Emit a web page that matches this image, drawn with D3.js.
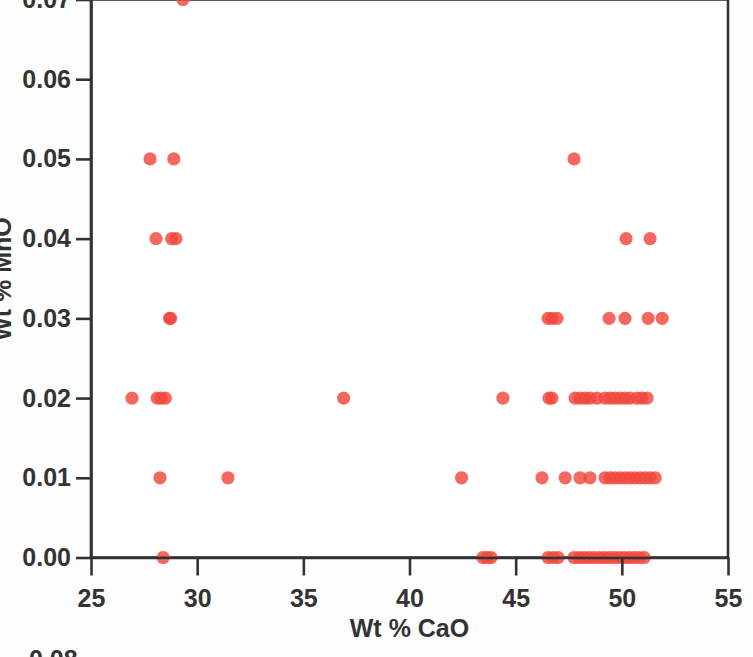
<!DOCTYPE html>
<html>
<head>
<meta charset="utf-8">
<script src="https://cdn.jsdelivr.net/npm/d3@7"></script>
<style>
  html, body { margin: 0; padding: 0; background: #fdfdfd; overflow: hidden; }
  svg { display: block; }
  .tick text, .lbl { font-family: "Liberation Sans", Arial, sans-serif; font-weight: bold; fill: #333; }
</style>
</head>
<body>
<svg></svg>
<script>
// Wt % MnO levels and the CaO values read at each level
const mnoLevels = [0.00, 0.01, 0.02, 0.03, 0.04, 0.05, 0.07];
const caoAt000 = [28.4, 43.46, 43.65, 43.84, 46.53, 46.76, 47.0, 47.75, 47.99, 48.22, 48.46, 48.69, 48.93, 49.16, 49.4, 49.64, 49.87, 50.11, 50.34, 50.58, 50.81, 51.05];
const caoAt001 = [28.25, 31.45, 42.45, 46.24, 47.33, 48.03, 48.5, 49.21, 49.45, 49.68, 49.92, 50.15, 50.39, 50.62, 50.86, 51.1, 51.33, 51.57];
const caoAt002 = [26.93, 28.12, 28.3, 28.5, 36.9, 44.4, 46.57, 46.71, 47.8, 48.03, 48.27, 48.5, 48.83, 49.21, 49.45, 49.68, 49.92, 50.15, 50.39, 50.72, 50.95, 51.19];
const caoAt003 = [28.7, 28.75, 46.53, 46.71, 46.95, 49.4, 50.15, 51.24, 51.9];
const caoAt004 = [28.06, 28.8, 29.0, 50.2, 51.33];
const caoAt005 = [27.78, 28.9, 47.75];
const caoAt007 = [29.33];

const xTicks = [25, 30, 35, 40, 45, 50, 55];
const yTicks = [0.00, 0.01, 0.02, 0.03, 0.04, 0.05, 0.06, 0.07];

// flatten into points
var groups = [caoAt000, caoAt001, caoAt002, caoAt003, caoAt004, caoAt005, caoAt007];
var points = [];
groups.forEach((g, i) => g.forEach(c => points.push({ cao: c, mno: mnoLevels[i] })));

const W = 753, H = 657;
const plot = { left: 91, right: 728, top: -0.5, bottom: 557.5 };

var svg = d3.select('svg').attr('width', W).attr('height', H);

var x = d3.scaleLinear().domain([25, 55]).range([plot.left, plot.right]);
var y = d3.scaleLinear().domain([0, 0.07]).range([plot.bottom, plot.top]);

// frame
svg.append('rect')
  .attr('x', plot.left).attr('y', plot.top)
  .attr('width', plot.right - plot.left).attr('height', plot.bottom - plot.top)
  .attr('fill', '#fff')
  .attr('stroke', '#333')
  .attr('stroke-width', 2.6);

// points
svg.append('g')
  .selectAll('circle')
  .data(points)
  .enter().append('circle')
    .attr('cx', d => x(d.cao))
    .attr('cy', d => y(d.mno))
    .attr('r', 6.6)
    .attr('fill', '#f2473c')
    .attr('fill-opacity', 0.82);

// axes
var xAxis = svg.append('g')
  .attr('transform', `translate(0,${plot.bottom})`)
  .call(d3.axisBottom(x).tickValues(xTicks).tickFormat(d3.format('d'))
    .tickSize(18).tickSizeOuter(0).tickPadding(14));

var yAxis = svg.append('g')
  .attr('transform', `translate(${plot.left},0)`)
  .call(d3.axisLeft(y).tickValues(yTicks).tickFormat(d3.format('.2f'))
    .tickSize(15).tickSizeOuter(0).tickPadding(5));

[xAxis, yAxis].forEach(a => {
  a.selectAll('path.domain').attr('stroke', '#333').attr('stroke-width', 2.6);
  a.selectAll('.tick line').attr('stroke', '#333').attr('stroke-width', 2.6);
  a.selectAll('.tick text').attr('font-size', 25).attr('fill', '#333')
    .style('font-family', '"Liberation Sans", Arial, sans-serif').style('font-weight', 'bold');
});

// axis titles
svg.append('text')
  .attr('class', 'lbl')
  .attr('x', (plot.left + plot.right) / 2)
  .attr('y', 637)
  .attr('text-anchor', 'middle')
  .attr('font-size', 25)
  .text('Wt % CaO');

svg.append('text')
  .attr('class', 'lbl')
  .attr('transform', 'translate(11,279) rotate(-90)')
  .attr('text-anchor', 'middle')
  .attr('font-size', 25)
  .text('Wt % MnO');

// label of the next panel, cut off at the bottom
svg.append('text')
  .attr('class', 'lbl')
  .attr('x', 29)
  .attr('y', 668)
  .attr('font-size', 25)
  .text('0.08');
</script>
</body>
</html>
